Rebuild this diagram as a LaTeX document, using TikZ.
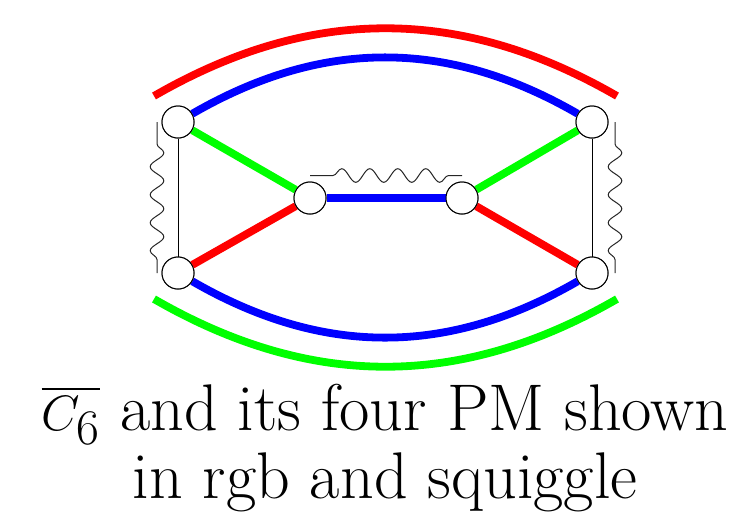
\documentclass[tikz,border=0pt]{standalone}
\usepackage{amsmath}
\usepackage{xcolor}
\usepackage{tikz}
\usetikzlibrary{
    positioning,
    calc,
    decorations.pathmorphing
}
\definecolor{pmred}{RGB}{255,0,0}
\definecolor{pmgreen}{RGB}{0,255,0}
\definecolor{pmblue}{RGB}{0,0,255}
\tikzset{
    vertex/.style={
        circle, draw=black, fill=white, line width=0.5pt,
        minimum size=16pt, inner sep=0pt
    },
    pm edge/.style={
        line width=3.9pt, draw=#1
    },
    pm edge/.default={black},
    plain edge/.style={
        line width=0.5pt, draw=black
    },
    squiggle/.style={
        line width=0.5pt, draw=black!85,
        decorate, decoration={snake, amplitude=3.4pt,
            segment length=14pt, pre length=#1, post length=4pt}
    },
    squiggle/.default={11pt},
    caption/.style={
        font=\fontsize{33}{40}\selectfont, anchor=base, inner sep=0pt
    },
}

\begin{document}
\begin{tikzpicture}[x=0.5pt, y=-0.5pt]

    \useasboundingbox (0,0) rectangle (737,515);

    % Vertices
    \node[vertex] (tl) at (178,122) {};
    \node[vertex] (bl) at (178,273) {};
    \node[vertex] (il) at (310,198) {};
    \node[vertex] (ir) at (462,198) {};
    \node[vertex] (tr) at (592,122) {};
    \node[vertex] (br) at (592,273) {};

    % Outer arcs, ends free
    \coordinate (redl) at (154,96);
    \coordinate (redr) at (617,96);
    \coordinate (greenl) at (154,299);
    \coordinate (greenr) at (617,299);

    % Squiggle ends
    \coordinate (sqla) at ($(tl)+(-21,0)$);
    \coordinate (sqlb) at ($(bl)+(-21,0)$);
    \coordinate (sqma) at ($(il)+(0,-22.5)$);
    \coordinate (sqmb) at ($(ir)+(0,-22.5)$);
    \coordinate (sqra) at ($(tr)+(23,0)$);
    \coordinate (sqrb) at ($(br)+(23,0)$);

    % Plain edges
    \draw[plain edge] (tl) -- (bl);
    \draw[plain edge] (tr) -- (br);

    % Perfect matchings
    \draw[pm edge=pmblue] (tl) to[bend left=30] (tr);
    \draw[pm edge=pmblue] (bl) to[bend right=30] (br);
    \draw[pm edge=pmblue] (il) -- (ir);
    \draw[pm edge=pmgreen] (tl) -- (il);
    \draw[pm edge=pmgreen] (ir) -- (tr);
    \draw[pm edge=pmred] (bl) -- (il);
    \draw[pm edge=pmred] (ir) -- (br);
    \draw[pm edge=pmred] (redl) to[bend left=30] (redr);
    \draw[pm edge=pmgreen] (greenl) to[bend right=30] (greenr);

    % Squiggles
    \draw[squiggle] (sqla) -- (sqlb);
    \draw[squiggle=11.5pt] (sqma) -- (sqmb);
    \draw[squiggle] (sqra) -- (sqrb);

    % Redraw vertices on top
    \foreach \v in {tl,bl,il,ir,tr,br}
        \node[vertex] at (\v) {};

    % Caption
    \node[caption] (capa) at (385,430) {$\overline{C_6}$ and its four PM shown};
    \node[caption] (capb) at (385,498) {in rgb and squiggle};

\end{tikzpicture}
\end{document}
